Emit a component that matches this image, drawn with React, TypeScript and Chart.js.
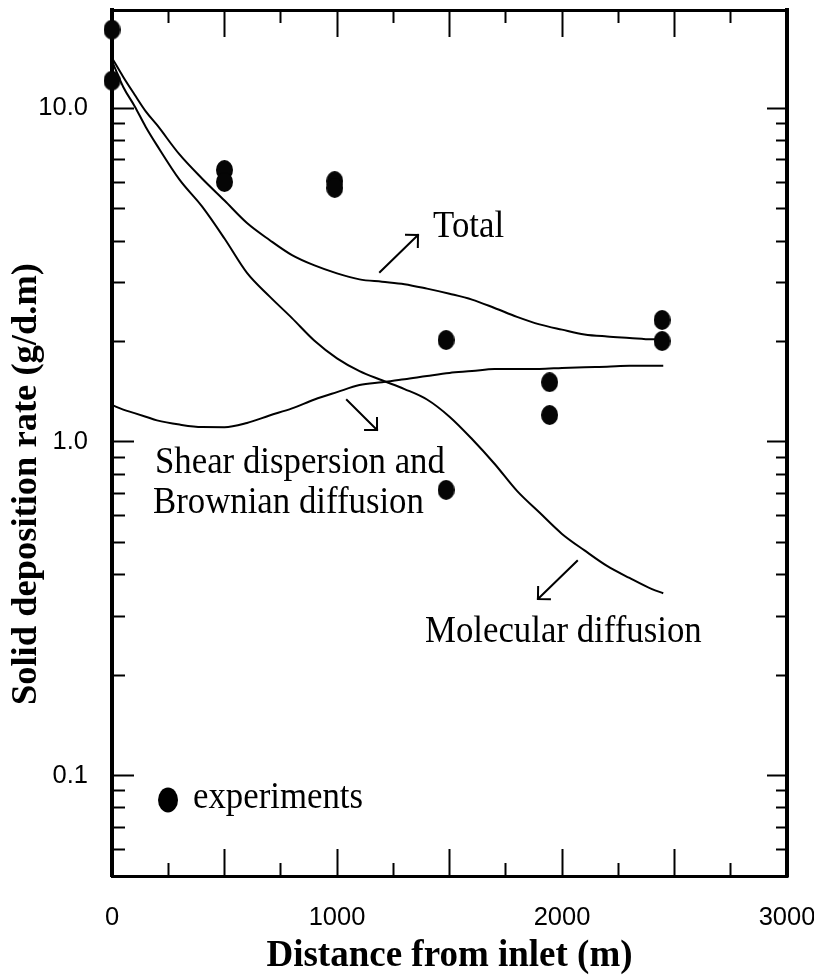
import { useEffect, useRef } from 'react';
import { Chart, registerables } from 'chart.js';

Chart.register(...registerables);

// ---- data ----
const curveX = [0, 50, 100, 150, 200, 300, 400, 500, 600, 700, 800, 900, 1000, 1100, 1200, 1300, 1400, 1500, 1600, 1700, 1800, 1900, 2000, 2100, 2200, 2300, 2400, 2450];
const totalY = [14.15, 12.41, 11.0, 9.79, 8.91, 7.27, 6.16, 5.29, 4.53, 4.03, 3.63, 3.38, 3.2, 3.07, 3.02, 2.97, 2.88, 2.78, 2.67, 2.52, 2.37, 2.25, 2.17, 2.1, 2.07, 2.05, 2.03, 2.03];
const molecularY = [13.85, 11.58, 10.16, 8.79, 7.74, 6.11, 5.08, 4.07, 3.21, 2.73, 2.35, 2.01, 1.78, 1.63, 1.53, 1.44, 1.34, 1.19, 1.02, 0.86, 0.713, 0.614, 0.53, 0.473, 0.425, 0.391, 0.362, 0.352];
const shearY = [1.29, 1.25, 1.22, 1.19, 1.16, 1.127, 1.108, 1.107, 1.14, 1.2, 1.26, 1.34, 1.41, 1.48, 1.51, 1.54, 1.576, 1.61, 1.63, 1.655, 1.655, 1.655, 1.666, 1.675, 1.68, 1.69, 1.69, 1.69];

const expX = [0, 0, 500, 500, 990, 990, 1485, 1485, 1945, 1945, 2445, 2445];
const expY = [17.2, 12.1, 6.53, 6.01, 6.05, 5.77, 2.02, 0.718, 1.51, 1.204, 2.32, 2.006];

// ---- ticks ----
const xMajorTicks = [0, 500, 1000, 1500, 2000, 2500, 3000];
const xMinorTicks = [250, 750, 1250, 1750, 2250, 2750];
const xLabelValues = [0, 1000, 2000, 3000];
const xTickLabels = ['0', '1000', '2000', '3000'];
const yMajorTicks = [0.1, 1, 10];
const yTickLabels = ['0.1', '1.0', '10.0'];
const yMinorTicks = [0.05, 0.06, 0.07, 0.08, 0.09, 0.2, 0.3, 0.4, 0.5, 0.6, 0.7, 0.8, 0.9, 2, 3, 4, 5, 6, 7, 8, 9];

const xTitle = 'Distance from inlet (m)';
const yTitle = 'Solid deposition rate (g/d.m)';

// ---- annotations (data coordinates) ----
const annotationTexts = ['Total', 'Shear dispersion and', 'Brownian diffusion', 'Molecular diffusion', 'experiments'];
const annotationX = [1427, 191, 182, 1391, 360];
const annotationY = [4.11, 0.808, 0.612, 0.2513, 0.0799];
const arrowFromX = [1191, 1044, 2067];
const arrowFromY = [3.23, 1.335, 0.4395];
const arrowToX = [1360, 1178, 1893];
const arrowToY = [4.17, 1.086, 0.3384];
const legendMarker = [249, 0.0845];

const black = '#000000';
const serif = '"Liberation Serif", "Times New Roman", Times, serif';
const tickFont = { family: '"Liberation Sans", Arial, sans-serif', size: 25.5, lineHeight: 1 };

const setTicks = (values: number[]) => (scale: any) => {
  scale.ticks = values.map((v) => ({ value: v }));
};

const fixSize = (dim: 'width' | 'height', size: number) => (s: any) => {
  s[dim] = size;
  s.paddingTop = 0;
  s.paddingBottom = 0;
  s.paddingLeft = 0;
  s.paddingRight = 0;
};

const annotationPlugin = {
  id: 'figureAnnotations',
  afterDraw(chart: any) {
    const { ctx } = chart;
    const xs = chart.scales.x;
    const ys = chart.scales.y;
    ctx.save();
    ctx.fillStyle = black;
    ctx.strokeStyle = black;
    ctx.font = `34.8px ${serif}`;
    ctx.textAlign = 'left';
    ctx.textBaseline = 'alphabetic';
    annotationTexts.forEach((t, i) => {
      const px = xs.getPixelForValue(annotationX[i]);
      const py = ys.getPixelForValue(annotationY[i]);
      ctx.save();
      ctx.translate(px, py);
      ctx.scale(1, 1.12);
      ctx.fillText(t, 0, 0);
      ctx.restore();
    });
    ctx.lineWidth = 2;
    ctx.lineCap = 'square';
    for (let i = 0; i < arrowFromX.length; i++) {
      const x1 = xs.getPixelForValue(arrowFromX[i]);
      const y1 = ys.getPixelForValue(arrowFromY[i]);
      const x2 = xs.getPixelForValue(arrowToX[i]);
      const y2 = ys.getPixelForValue(arrowToY[i]);
      ctx.beginPath();
      ctx.moveTo(x1, y1);
      ctx.lineTo(x2, y2);
      const ang = Math.atan2(y1 - y2, x1 - x2);
      for (const d of [-Math.PI / 4, Math.PI / 4]) {
        ctx.moveTo(x2, y2);
        ctx.lineTo(x2 + 12 * Math.cos(ang + d), y2 + 12 * Math.sin(ang + d));
      }
      ctx.stroke();
    }
    const lx = xs.getPixelForValue(legendMarker[0]);
    const ly = ys.getPixelForValue(legendMarker[1]);
    ctx.beginPath();
    ctx.ellipse(lx, ly, 10, 12.5, 0, 0, Math.PI * 2);
    ctx.fill();
    ctx.restore();
  },
};

export default function App() {
  const ref = useRef<HTMLCanvasElement | null>(null);

  useEffect(() => {
    if (!ref.current) return;
    const dot = document.createElement('canvas');
    dot.width = 17;
    dot.height = 20;
    const dctx = dot.getContext('2d')!;
    dctx.fillStyle = '#050505';
    dctx.beginPath();
    dctx.ellipse(8.5, 10, 8.5, 10, 0, 0, Math.PI * 2);
    dctx.fill();

    const tickGrid = (len: number) => ({
      drawOnChartArea: false,
      drawTicks: true,
      tickLength: len,
      tickWidth: 2,
      tickColor: black,
    });

    const lineDs = (label: string, ys: number[]) => ({
      label,
      data: curveX.map((x, i) => ({ x, y: ys[i] })),
      borderColor: black,
      borderWidth: 2,
      pointRadius: 0,
      cubicInterpolationMode: 'monotone',
      fill: false,
      xAxisID: 'x',
      yAxisID: 'y',
    });

    const chart = new Chart(ref.current, {
      type: 'line',
      data: {
        datasets: [
          {
            type: 'scatter',
            label: 'experiments',
            data: expX.map((x, i) => ({ x, y: expY[i] })),
            pointStyle: dot as any,
            pointRadius: 9,
            pointHoverRadius: 9,
            showLine: false,
            clip: false as any,
            xAxisID: 'x',
            yAxisID: 'y',
          } as any,
          lineDs('Total', totalY) as any,
          lineDs('Molecular diffusion', molecularY) as any,
          lineDs('Shear dispersion and Brownian diffusion', shearY) as any,
        ],
      },
      options: {
        responsive: false,
        animation: false,
        events: [],
        layout: { padding: { top: 10, right: 27, left: 0, bottom: 0 } },
        plugins: { legend: { display: false }, tooltip: { enabled: false } },
        scales: {
          x: {
            type: 'linear',
            position: 'bottom',
            min: 0,
            max: 3000,
            weight: 1,
            afterBuildTicks: setTicks(xMajorTicks),
            afterFit: fixSize('height', 99),
            grid: tickGrid(-27),
            border: { display: true, width: 3, color: black },
            ticks: {
              autoSkip: false,
              maxRotation: 0,
              padding: 56.25,
              color: black,
              font: tickFont,
              callback: (v: any) => {
                const i = xLabelValues.indexOf(Number(v));
                return i >= 0 ? xTickLabels[i] : '';
              },
            },
            title: {
              display: true,
              text: xTitle,
              color: black,
              font: { family: serif, size: 37, weight: 'bold', lineHeight: 1 },
              padding: 0,
            },
          },
          xMinor: {
            type: 'linear',
            position: 'bottom',
            min: 0,
            max: 3000,
            weight: 0,
            afterBuildTicks: setTicks(xMinorTicks),
            afterFit: fixSize('height', 0),
            grid: tickGrid(-13),
            border: { display: false },
            ticks: { display: false },
          },
          xTop: {
            type: 'linear',
            position: 'top',
            min: 0,
            max: 3000,
            weight: 1,
            afterBuildTicks: setTicks(xMajorTicks),
            afterFit: fixSize('height', 0),
            grid: tickGrid(-27),
            border: { display: true, width: 3, color: black },
            ticks: { display: false },
          },
          xTopMinor: {
            type: 'linear',
            position: 'top',
            min: 0,
            max: 3000,
            weight: 0,
            afterBuildTicks: setTicks(xMinorTicks),
            afterFit: fixSize('height', 0),
            grid: tickGrid(-13),
            border: { display: false },
            ticks: { display: false },
          },
          y: {
            type: 'logarithmic',
            position: 'left',
            min: 0.05,
            max: 19.7,
            weight: 1,
            afterBuildTicks: setTicks(yMajorTicks),
            afterFit: fixSize('width', 112),
            grid: tickGrid(-22),
            border: { display: true, width: 4, color: black },
            ticks: {
              padding: 46,
              color: black,
              font: tickFont,
              autoSkip: false,
              callback: (v: any) => {
                const i = yMajorTicks.findIndex((t) => Math.abs(t - Number(v)) < 1e-9);
                return i >= 0 ? yTickLabels[i] : '';
              },
            },
            title: {
              display: true,
              text: yTitle + '         ',
              color: black,
              font: { family: serif, size: 36.5, weight: 'bold', lineHeight: 1 },
              padding: { top: 8.75, bottom: 0 },
            },
          },
          yMinor: {
            type: 'logarithmic',
            position: 'left',
            min: 0.05,
            max: 19.7,
            weight: 0,
            afterBuildTicks: setTicks(yMinorTicks),
            afterFit: fixSize('width', 0),
            grid: tickGrid(-13),
            border: { display: false },
            ticks: { display: false },
          },
          yRight: {
            type: 'logarithmic',
            position: 'right',
            min: 0.05,
            max: 19.7,
            weight: 0,
            afterBuildTicks: setTicks(yMajorTicks),
            afterFit: fixSize('width', 0),
            grid: tickGrid(-20),
            border: { display: true, width: 4, color: black },
            ticks: { display: false },
          },
          yRightMinor: {
            type: 'logarithmic',
            position: 'right',
            min: 0.05,
            max: 19.7,
            weight: 1,
            afterBuildTicks: setTicks(yMinorTicks),
            afterFit: fixSize('width', 0),
            grid: tickGrid(-11),
            border: { display: false },
            ticks: { display: false },
          },
        } as any,
      },
      plugins: [annotationPlugin],
    });
    return () => chart.destroy();
  }, []);

  return (
    <div style={{ position: 'absolute', left: 0, top: 0, width: 814, height: 975, background: '#fff' }}>
      <canvas ref={ref} width={814} height={975} style={{ width: 814, height: 975, display: 'block' }} />
    </div>
  );
}
